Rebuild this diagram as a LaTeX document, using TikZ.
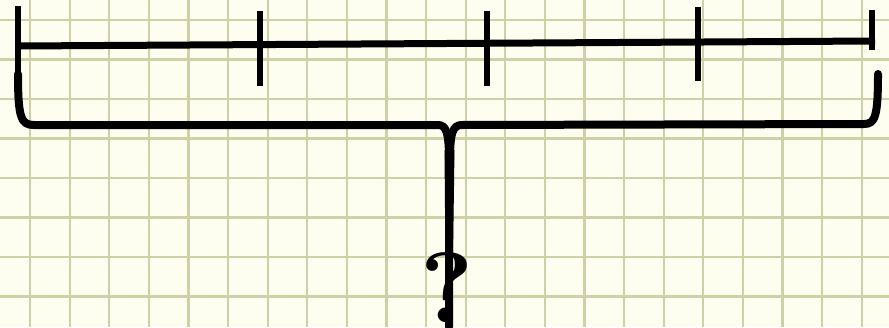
\documentclass[tikz,border=0pt]{standalone}
\usetikzlibrary{calc}
\definecolor{paper}{RGB}{254,254,240}
\definecolor{gridc}{RGB}{206,208,166}
\begin{document}
\begin{tikzpicture}[x=1pt,y=-1pt,
  ink/.style={line width=7pt,black},
  tick/.style={line width=6.5pt,black},
  bracestroke/.style={line width=8pt,black,line cap=round,line join=round},
  gridline/.style={line width=2.2pt,gridc}]
\useasboundingbox (0,0) rectangle (889,327);
\fill[paper] (0,0) rectangle (889,327);
\foreach \i in {0,...,22} {
  \draw[gridline] ({30+39.6*\i},0) -- ({30+39.6*\i},327);
}
\foreach \j in {0,...,8} {
  \draw[gridline] (0,{20+39.5*\j}) -- (889,{20+39.5*\j});
}
% number line
\coordinate (L) at (18,46);
\coordinate (R) at (875,41);
\draw[ink] (L) -- (R);
\coordinate (t0a) at (18,6);   \coordinate (t0b) at (18,72);
\coordinate (t1a) at (260,11); \coordinate (t1b) at (260,86);
\coordinate (t2a) at (487,11); \coordinate (t2b) at (487,86);
\coordinate (t3a) at (698,7);  \coordinate (t3b) at (698,81);
\coordinate (t4a) at (872,10); \coordinate (t4b) at (872,50);
\draw[tick] (t0a) -- (t0b);
\draw[tick] (t1a) -- (t1b);
\draw[tick] (t2a) -- (t2b);
\draw[tick] (t3a) -- (t3b);
\draw[tick] (t4a) -- (t4b);
% brace
\coordinate (BL) at (18,74);
\coordinate (BR) at (878,74);
\coordinate (S) at (449,327);
\draw[bracestroke] (BL) .. controls (18,118) and (21,125) .. (34,125) -- (438,125)
   .. controls (446,125) and (449,132) .. (449,160) -- (S);
\draw[bracestroke] (BR) .. controls (878,117) and (875,124) .. (864,124) -- (462,125)
   .. controls (453,125) and (450,132) .. (450,160);
\fill[black] (444.5,150) -- (454.5,150) -- (452,327) -- (446,327) -- cycle;
% question mark
\node[anchor=base,inner sep=0pt,font=\fontsize{100}{100}\selectfont\bfseries] (q) at (447,322) {?};
\end{tikzpicture}
\end{document}
